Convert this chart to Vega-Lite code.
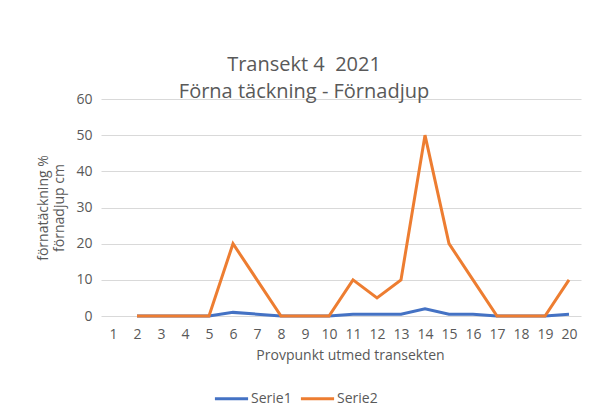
{
  "$schema": "https://vega.github.io/schema/vega-lite/v6.json",
  "autosize": {"type": "none"},
  "width": 480,
  "height": 217,
  "padding": {"left": 101, "top": 99, "right": 33, "bottom": 102},
  "background": "white",
  "config": {"font": "Open Sans", "view": {"stroke": null}},
  "title": {
    "text": ["Transekt 4\u00a0 2021", "Förna täckning - Förnadjup"],
    "fontSize": 20,
    "fontWeight": "normal",
    "color": "#595959",
    "lineHeight": 27,
    "anchor": "middle",
    "dx": -37,
    "offset": -10,
    "font": "Open Sans"
  },
  "data": {
    "values": [
      {"punkt": 2, "serie": "Serie1", "value": 0},
      {"punkt": 3, "serie": "Serie1", "value": 0},
      {"punkt": 4, "serie": "Serie1", "value": 0},
      {"punkt": 5, "serie": "Serie1", "value": 0},
      {"punkt": 6, "serie": "Serie1", "value": 1},
      {"punkt": 7, "serie": "Serie1", "value": 0.5},
      {"punkt": 8, "serie": "Serie1", "value": 0},
      {"punkt": 9, "serie": "Serie1", "value": 0},
      {"punkt": 10, "serie": "Serie1", "value": 0},
      {"punkt": 11, "serie": "Serie1", "value": 0.5},
      {"punkt": 12, "serie": "Serie1", "value": 0.5},
      {"punkt": 13, "serie": "Serie1", "value": 0.5},
      {"punkt": 14, "serie": "Serie1", "value": 2},
      {"punkt": 15, "serie": "Serie1", "value": 0.5},
      {"punkt": 16, "serie": "Serie1", "value": 0.5},
      {"punkt": 17, "serie": "Serie1", "value": 0},
      {"punkt": 18, "serie": "Serie1", "value": 0},
      {"punkt": 19, "serie": "Serie1", "value": 0},
      {"punkt": 20, "serie": "Serie1", "value": 0.5},
      {"punkt": 2, "serie": "Serie2", "value": 0},
      {"punkt": 3, "serie": "Serie2", "value": 0},
      {"punkt": 4, "serie": "Serie2", "value": 0},
      {"punkt": 5, "serie": "Serie2", "value": 0},
      {"punkt": 6, "serie": "Serie2", "value": 20},
      {"punkt": 7, "serie": "Serie2", "value": 10},
      {"punkt": 8, "serie": "Serie2", "value": 0},
      {"punkt": 9, "serie": "Serie2", "value": 0},
      {"punkt": 10, "serie": "Serie2", "value": 0},
      {"punkt": 11, "serie": "Serie2", "value": 10},
      {"punkt": 12, "serie": "Serie2", "value": 5},
      {"punkt": 13, "serie": "Serie2", "value": 10},
      {"punkt": 14, "serie": "Serie2", "value": 50},
      {"punkt": 15, "serie": "Serie2", "value": 20},
      {"punkt": 16, "serie": "Serie2", "value": 10},
      {"punkt": 17, "serie": "Serie2", "value": 0},
      {"punkt": 18, "serie": "Serie2", "value": 0},
      {"punkt": 19, "serie": "Serie2", "value": 0},
      {"punkt": 20, "serie": "Serie2", "value": 10}
    ]
  },
  "mark": {"type": "line", "strokeWidth": 3},
  "encoding": {
    "x": {
      "field": "punkt",
      "type": "ordinal",
      "scale": {"domain": [1,2,3,4,5,6,7,8,9,10,11,12,13,14,15,16,17,18,19,20], "padding": 0.5},
      "axis": {
        "title": "Provpunkt utmed transekten",
        "labelAngle": 0,
        "domain": false,
        "ticks": false,
        "grid": false,
        "labelPadding": 11,
        "labelFontSize": 14,
        "labelColor": "#595959",
        "titleFontSize": 14,
        "titleColor": "#595959",
        "titleFontWeight": "normal",
        "titlePadding": 7,
        "titleX": 249
      }
    },
    "y": {
      "field": "value",
      "type": "quantitative",
      "scale": {"domain": [0, 60]},
      "axis": {
        "values": [0, 10, 20, 30, 40, 50, 60],
        "title": ["förnatäckning %", "förnadjup cm"],
        "domain": false,
        "ticks": false,
        "gridColor": "#d9d9d9",
        "labelPadding": 9,
        "labelFontSize": 14,
        "labelColor": "#595959",
        "titleFontSize": 14,
        "titleColor": "#595959",
        "titleFontWeight": "normal",
        "titleLineHeight": 16,
        "titlePadding": 9
      }
    },
    "color": {
      "field": "serie",
      "type": "nominal",
      "scale": {"domain": ["Serie1", "Serie2"], "range": ["#4472C4", "#ED7D31"]},
      "legend": {
        "orient": "none",
        "legendX": 112,
        "legendY": 281,
        "direction": "horizontal",
        "title": null,
        "symbolType": "stroke",
        "symbolSize": 1100,
        "symbolStrokeWidth": 3,
        "labelFontSize": 14,
        "labelColor": "#595959",
        "columnPadding": 2,
        "labelOffset": 1
      }
    }
  }
}
